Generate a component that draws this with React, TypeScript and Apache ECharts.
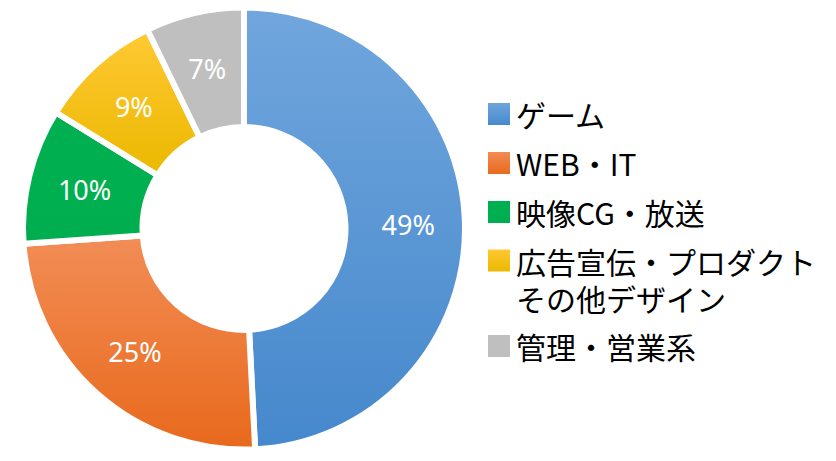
import React, { useEffect, useRef } from "react";
import * as echarts from "echarts";

const categories = [
  "ゲーム",
  "WEB・IT",
  "映像CG・放送",
  "広告宣伝・プロダクト\nその他デザイン",
  "管理・営業系",
];
const values = [49.2, 24.7, 9.9, 9.0, 7.2];
const topColors = ["#71A6DD", "#F28D56", "#00B050", "#FFC934", "#BFBFBF"];
const bottomColors = ["#4588CC", "#E8691C", "#00AE4F", "#EBB800", "#BFBFBF"];

const legendFont = "'Noto Sans CJK JP', 'Noto Sans', sans-serif";

export default function App() {
  const ref = useRef<HTMLDivElement>(null);
  useEffect(() => {
    if (!ref.current) return;
    const chart = echarts.init(ref.current, null, { renderer: "svg" });
    const data = categories.map((name, i) => ({
      name,
      value: values[i],
      itemStyle: {
        color: new echarts.graphic.LinearGradient(0, 0, 0, 1, [
          { offset: 0, color: topColors[i] },
          { offset: 1, color: bottomColors[i] },
        ]),
      },
    }));
    const baseLegend = {
      orient: "vertical" as const,
      left: 486,
      padding: 0,
      icon: "rect",
      itemWidth: 24,
      itemHeight: 24,
      itemGap: 13,
      selectedMode: false,
      textStyle: {
        fontSize: 30,
        lineHeight: 36,
        color: "#000",
        fontFamily: legendFont,
      },
    };
    chart.setOption({
      animation: false,
      backgroundColor: "#fff",
      legend: [
        { ...baseLegend, top: 96, data: categories.slice(0, 3) },
        {
          ...baseLegend,
          top: 205,
          formatter: (name: string) => "\n" + name,
          textStyle: { ...baseLegend.textStyle, lineHeight: 37 },
          data: [categories[3]],
        },
        { ...baseLegend, top: 328, data: [categories[4]] },
      ],
      series: [
        {
          type: "pie",
          center: [244, 228.5],
          radius: [101.5, 221],
          startAngle: 90,
          clockwise: true,
          percentPrecision: 0,
          avoidLabelOverlap: false,
          itemStyle: { borderColor: "#fff", borderWidth: 6 },
          label: {
            show: true,
            position: "inside",
            formatter: "{d}%",
            color: "#fff",
            fontSize: 27,
            fontFamily: "'Noto Sans', sans-serif",
          },
          labelLine: { show: false },
          emphasis: { disabled: true },
          data,
        },
      ],
    });
    return () => chart.dispose();
  }, []);
  return (
    <div
      ref={ref}
      style={{ position: "absolute", left: 0, top: 0, width: 836, height: 461 }}
    />
  );
}
